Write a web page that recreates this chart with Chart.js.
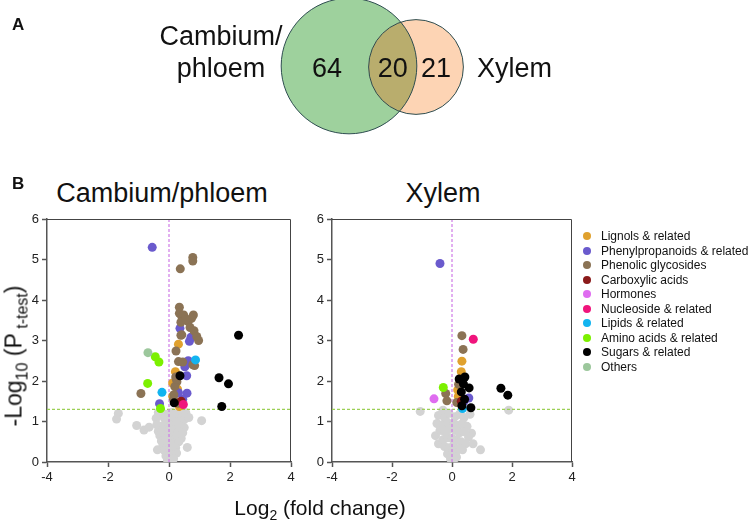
<!DOCTYPE html>
<html>
<head>
<meta charset="utf-8">
<script src="https://cdn.jsdelivr.net/npm/chart.js@4/dist/chart.umd.min.js"></script>
<style>
  body { margin: 0; background: #fff; font-family: "Liberation Sans", Arial, sans-serif; color: #111; }
  #wrap { position: relative; width: 750px; height: 532px; overflow: hidden; }
  canvas { position: absolute; }
  .abs { position: absolute; white-space: nowrap; }
  .panel { font-weight: bold; font-size: 17px; line-height: 17px; }
  .title { font-size: 27px; line-height: 27px; transform: translateX(-50%); }
  .axis-title { font-size: 21px; line-height: 21px; }
  .axis-title sub { font-size: 14px; line-height: 0; }
  .ytitle { font-size: 23px; line-height: 23px; }
  .ytitle sub { font-size: 16px; line-height: 0; }
  #legend { position: absolute; left: 583px; top: 229px; font-size: 12px; }
  #legend .item { position: absolute; left: 0; height: 14.5px; line-height: 14.5px; display: flex; align-items: center; white-space: nowrap; }
  #legend .dot { width: 8px; height: 8px; border-radius: 50%; margin-right: 10px; flex: none; }
</style>
</head>
<body>
<div id="wrap">
  <canvas id="venn" width="750" height="150" style="left:0;top:0"></canvas>
  <div class="abs panel" style="left:12px;top:16px">A</div>
  <div class="abs panel" style="left:12px;top:175px">B</div>

  <div class="abs title" style="left:162px;top:180px">Cambium/phloem</div>
  <div class="abs title" style="left:443px;top:180px">Xylem</div>

  <canvas id="cambium" width="310" height="300" style="left:0;top:200px"></canvas>
  <canvas id="xylem" width="300" height="300" style="left:300px;top:200px"></canvas>

  <div class="abs ytitle" style="left:14px;top:356px;transform:translate(-50%,-50%) rotate(-90deg)">-Log<sub>10</sub> (P<sub> t-test</sub>)</div>
  <div class="abs axis-title" style="left:320px;top:497px;transform:translateX(-50%)">Log<sub>2</sub> (fold change)</div>

  <div id="legend"></div>
</div>

<script>
// metabolite classes, in legend order
const categories = [
  "Lignols & related",
  "Phenylpropanoids & related",
  "Phenolic glycosides",
  "Carboxylic acids",
  "Hormones",
  "Nucleoside & related",
  "Lipids & related",
  "Amino acids & related",
  "Sugars & related",
  "Others",
];
const categoryColors = [
  "#e0a12e", "#6a5acd", "#8b7355", "#8b1a1a", "#df6cf0",
  "#f0147c", "#12b4f0", "#7cf000", "#000000", "#9cc79c",
];
const greyColor = "#d3d3d3";

const xTicks = [-4, -2, 0, 2, 4];
const yTicks = [0, 1, 2, 3, 4, 5, 6];
const sigThreshold = 1.3; // -log10(0.05)

// venn: only cambium/phloem, shared, only xylem
const vennNames = ["Cambium/", "phloem", "Xylem"];
const vennCounts = [64, 20, 21];

// significant metabolites, [log2 FC, -log10 P], one list per class (legend order)
const cambiumSig = [
  [[0.31, 2.91], [0.21, 2.23], [0.12, 1.95], [0.34, 1.37], [0.12, 1.62], [0.28, 1.80], [0.20, 1.48]],
  [[-0.55, 5.30], [0.36, 3.30], [0.72, 3.08], [0.67, 2.98], [0.58, 2.44], [0.63, 2.50], [0.52, 2.35],
   [0.58, 2.13], [0.31, 1.71], [0.59, 1.70], [-0.31, 1.44], [0.45, 1.55]],
  [[0.78, 5.05], [0.78, 4.96], [0.37, 4.77], [0.34, 3.82], [0.34, 3.67], [0.42, 3.59], [0.48, 3.63],
   [0.80, 3.63], [0.74, 3.55], [0.63, 3.47], [0.39, 3.45], [0.55, 3.52], [0.69, 3.32], [0.82, 3.24],
   [0.91, 3.10], [0.42, 3.14], [0.97, 3.00], [0.39, 3.13], [0.23, 2.74], [0.31, 2.48], [0.45, 2.47],
   [0.78, 2.40], [0.84, 2.38], [0.22, 2.10], [0.26, 1.98], [0.19, 1.86], [0.16, 1.66], [0.15, 1.55],
   [0.24, 2.05], [-0.92, 1.69], [0.30, 1.45]],
  [[0.40, 1.50]],
  [],
  [[0.47, 1.42]],
  [[0.87, 2.52], [-0.23, 1.72]],
  [[-0.45, 2.60], [-0.33, 2.47], [-0.70, 1.94], [-0.28, 1.32]],
  [[2.28, 3.13], [0.36, 2.13], [1.64, 2.08], [1.95, 1.93], [1.73, 1.37], [0.17, 1.46]],
  [[-0.69, 2.70]],
];

const xylemSig = [
  [[0.33, 2.49], [0.31, 2.23], [0.19, 1.78], [0.21, 1.62], [0.26, 1.45]],
  [[-0.40, 4.90], [0.56, 1.58], [0.40, 1.50]],
  [[0.33, 3.12], [0.37, 2.78], [-0.21, 1.69], [-0.17, 1.51], [0.16, 1.47], [0.22, 1.92]],
  [[0.31, 1.50]],
  [[-0.60, 1.56]],
  [[0.71, 3.03]],
  [[0.35, 1.32]],
  [[-0.29, 1.84]],
  [[0.24, 2.05], [0.43, 2.10], [0.38, 1.93], [0.57, 1.83], [0.31, 1.73], [0.42, 1.55], [0.33, 1.39],
   [0.63, 1.34], [1.63, 1.82], [1.86, 1.65]],
  [],
];

// non-significant metabolites
const cambiumGrey = [
  [-1.66, 1.20], [-1.72, 1.06], [-1.06, 0.90], [-0.82, 0.79], [-0.65, 0.86], [1.07, 1.02], [0.60, 0.36],
  [-0.35, 1.22], [-0.20, 1.20], [-0.05, 1.18], [0.10, 1.22], [0.25, 1.20], [0.40, 1.15], [0.55, 1.22],
  [-0.42, 1.08], [-0.15, 1.08], [0.05, 1.05], [0.20, 1.08], [0.35, 1.02], [0.50, 1.05], [0.65, 1.10],
  [-0.40, 0.92], [-0.25, 0.88], [-0.10, 0.95], [0.05, 0.90], [0.20, 0.92], [0.35, 0.88], [0.50, 0.85],
  [-0.35, 0.76], [-0.20, 0.80], [0.00, 0.78], [0.15, 0.80], [0.30, 0.75], [0.45, 0.72],
  [-0.30, 0.65], [-0.15, 0.62], [0.00, 0.68], [0.12, 0.60], [0.25, 0.65], [0.40, 0.58],
  [-0.25, 0.52], [-0.10, 0.50], [0.05, 0.52], [0.20, 0.48], [0.32, 0.50],
  [-0.20, 0.42], [-0.05, 0.38], [0.10, 0.40], [0.22, 0.35], [-0.38, 0.30],
  [-0.15, 0.28], [0.00, 0.25], [0.12, 0.30], [0.25, 0.22],
  [-0.10, 0.15], [0.02, 0.12], [0.12, 0.18], [-0.05, 0.05], [0.05, 0.03], [0.15, 0.08],
];

const xylemGrey = [
  [-1.06, 1.25], [1.89, 1.28], [-0.30, 1.28], [0.60, 1.18], [0.95, 0.30], [0.65, 0.71],
  [-0.45, 1.15], [-0.25, 1.10], [-0.10, 1.20], [0.10, 1.12], [0.25, 1.18], [0.40, 1.10],
  [-0.50, 0.95], [-0.30, 0.92], [-0.15, 0.98], [0.05, 0.95], [0.20, 0.90], [0.35, 0.95], [0.50, 0.88],
  [-0.55, 0.65], [-0.40, 0.78], [-0.25, 0.75], [-0.10, 0.80], [0.10, 0.78], [0.25, 0.72], [0.40, 0.75],
  [0.55, 0.62], [-0.45, 0.45], [-0.30, 0.55], [-0.15, 0.60], [0.00, 0.58], [0.15, 0.55], [0.30, 0.50],
  [0.45, 0.45], [0.70, 0.45], [-0.25, 0.38], [-0.10, 0.35], [0.05, 0.40], [0.20, 0.32], [0.35, 0.30],
  [-0.15, 0.20], [0.00, 0.18], [0.12, 0.22], [-0.05, 0.08], [0.05, 0.05], [0.15, 0.12],
];

Chart.defaults.font.family = '"Liberation Sans", Arial, sans-serif';
Chart.defaults.color = "#222";

const toPoints = (list) => list.map(([x, y]) => ({ x, y }));

// top and right edges of the plot box
const framePlugin = {
  id: "frame",
  afterDraw(chart) {
    const { ctx, chartArea: a } = chart;
    ctx.save();
    ctx.strokeStyle = "#444";
    ctx.lineWidth = 1;
    ctx.beginPath();
    ctx.moveTo(a.left, a.top + 0.5);
    ctx.lineTo(a.right - 0.5, a.top + 0.5);
    ctx.lineTo(a.right - 0.5, a.bottom);
    ctx.stroke();
    ctx.restore();
  },
};

function volcano(canvasId, sig, grey, yAxisWidth, padRight) {
  const datasets = [];
  sig.forEach((pts, i) => {
    datasets.push({
      label: categories[i],
      data: toPoints(pts),
      backgroundColor: categoryColors[i],
      borderWidth: 0,
      pointRadius: 4.5,
      order: categories.length - i,
    });
  });
  datasets.push({
    label: "fc0",
    data: [{ x: 0, y: yTicks[0] }, { x: 0, y: yTicks[yTicks.length - 1] }],
    showLine: true,
    borderColor: "#cf7be6",
    borderWidth: 1.2,
    borderDash: [3, 2],
    pointRadius: 0,
    order: 20,
  });
  datasets.push({
    label: "p005",
    data: [{ x: xTicks[0], y: sigThreshold }, { x: xTicks[xTicks.length - 1], y: sigThreshold }],
    showLine: true,
    borderColor: "#9ccf55",
    borderWidth: 1.3,
    borderDash: [3, 2],
    pointRadius: 0,
    order: 21,
  });
  datasets.push({
    label: "n.s.",
    data: toPoints(grey),
    backgroundColor: greyColor,
    borderWidth: 0,
    pointRadius: 4.5,
    order: 30,
  });

  const axisCommon = {
    type: "linear",
    grid: { display: true, drawOnChartArea: false, drawTicks: true, tickLength: 5, color: "#555", tickWidth: 1.5 },
    border: { display: true, color: "#555", width: 1.5 },
    ticks: { font: { size: 13 }, color: "#222" },
  };

  return new Chart(document.getElementById(canvasId), {
    type: "scatter",
    data: { datasets },
    options: {
      responsive: false,
      animation: false,
      layout: { padding: { top: 19, right: padRight, left: 0, bottom: 0 } },
      plugins: { legend: { display: false }, tooltip: { enabled: false } },
      scales: {
        x: {
          ...axisCommon,
          min: xTicks[0],
          max: xTicks[xTicks.length - 1],
          ticks: { ...axisCommon.ticks, padding: 3 },
          afterBuildTicks(scale) { scale.ticks = xTicks.map((v) => ({ value: v })); },
          afterFit(scale) { scale.height = 38; },
        },
        y: {
          ...axisCommon,
          min: yTicks[0],
          max: yTicks[yTicks.length - 1],
          ticks: { ...axisCommon.ticks, padding: 3 },
          afterBuildTicks(scale) { scale.ticks = yTicks.map((v) => ({ value: v })); },
          afterFit(scale) { scale.width = yAxisWidth; },
        },
      },
    },
    plugins: [framePlugin],
  });
}

volcano("cambium", cambiumSig, cambiumGrey, 47, 19);
volcano("xylem", xylemSig, xylemGrey, 32, 28);

// legend
const legendBox = document.getElementById("legend");
categories.forEach((name, i) => {
  const row = document.createElement("div");
  row.className = "item";
  row.style.top = (i * 14.5) + "px";
  row.innerHTML = `<span class="dot" style="background:${categoryColors[i]}"></span>${name.replace("&", "&amp;")}`;
  legendBox.appendChild(row);
});

// venn diagram: circle area follows set size
const setSizes = [vennCounts[0] + vennCounts[1], vennCounts[1] + vennCounts[2]];
const vennR = setSizes.map((n) => 7.4 * Math.sqrt(n));
const vennCenters = [[349, 66], [416, 67]];

const vennPlugin = {
  id: "venn",
  afterDraw(chart) {
    const { ctx } = chart;
    const [g, o] = vennCenters;
    const [gr, or] = vennR;
    const circle = (c, r) => { ctx.beginPath(); ctx.arc(c[0], c[1], r, 0, Math.PI * 2); };

    ctx.save();
    circle(g, gr); ctx.fillStyle = "#9ed19d"; ctx.fill();
    circle(o, or); ctx.fillStyle = "#fdd4b4"; ctx.fill();
    // overlap region
    circle(g, gr); ctx.clip();
    circle(o, or); ctx.fillStyle = "#b9ad6d"; ctx.fill();
    ctx.restore();

    ctx.save();
    ctx.strokeStyle = "#2e4d50";
    ctx.lineWidth = 1;
    circle(g, gr); ctx.stroke();
    circle(o, or); ctx.stroke();

    ctx.fillStyle = "#111";
    ctx.font = '27px "Liberation Sans", Arial, sans-serif';
    ctx.textBaseline = "alphabetic";
    ctx.textAlign = "center";
    ctx.fillText(vennNames[0], 221, 45);
    ctx.fillText(vennNames[1], 221, 77);
    const gl = g[0] - gr, grt = g[0] + gr, ol = o[0] - or, ort = o[0] + or;
    ctx.fillText(String(vennCounts[0]), (gl + ol) / 2 + 2, 77);
    ctx.fillText(String(vennCounts[1]), (ol + grt) / 2, 77);
    ctx.fillText(String(vennCounts[2]), (grt + ort) / 2 - 4, 77);
    ctx.textAlign = "left";
    ctx.fillText(vennNames[2], 477, 77);
    ctx.restore();
  },
};

new Chart(document.getElementById("venn"), {
  type: "scatter",
  data: { datasets: [] },
  options: {
    responsive: false,
    animation: false,
    plugins: { legend: { display: false }, tooltip: { enabled: false } },
    scales: { x: { display: false }, y: { display: false } },
  },
  plugins: [vennPlugin],
});
</script>
</body>
</html>
